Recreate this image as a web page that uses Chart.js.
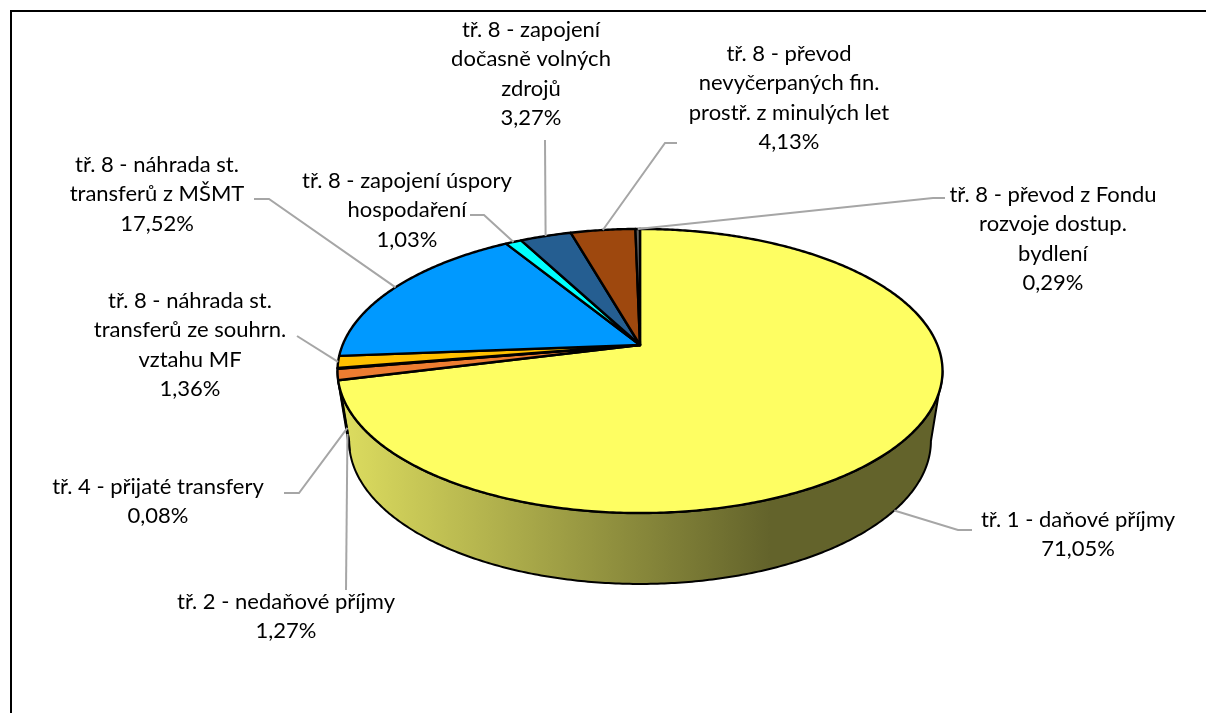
<!DOCTYPE html>
<html>
<head>
<meta charset="utf-8">
<title>Příjmy</title>
<script src="https://cdn.jsdelivr.net/npm/chart.js@4"></script>
<style>
  html, body { margin: 0; padding: 0; background: #fff; overflow: hidden; }
  canvas { display: block; }
</style>
</head>
<body>
<canvas id="pieChart" width="1206" height="713"></canvas>
<script>
// Data, clockwise from 12 o'clock
const categories = [
  'tř. 1 - daňové příjmy',
  'tř. 2 - nedaňové příjmy',
  'tř. 4 - přijaté transfery',
  'tř. 8 - náhrada st. transferů ze souhrn. vztahu MF',
  'tř. 8 - náhrada st. transferů z MŠMT',
  'tř. 8 - zapojení úspory hospodaření',
  'tř. 8 - zapojení dočasně volných zdrojů',
  'tř. 8 - převod nevyčerpaných fin. prostř. z minulých let',
  'tř. 8 - převod z Fondu rozvoje dostup. bydlení'
];
const values = [71.05, 1.27, 0.08, 1.36, 17.52, 1.03, 3.27, 4.13, 0.29];
const labelLines = [
  ['tř. 1 - daňové příjmy'],
  ['tř. 2 - nedaňové příjmy'],
  ['tř. 4 - přijaté transfery'],
  ['tř. 8 - náhrada st.', 'transferů ze souhrn.', 'vztahu MF'],
  ['tř. 8 - náhrada st.', 'transferů z MŠMT'],
  ['tř. 8 - zapojení úspory', 'hospodaření'],
  ['tř. 8 - zapojení', 'dočasně volných', 'zdrojů'],
  ['tř. 8 - převod', 'nevyčerpaných fin.', 'prostř. z minulých let'],
  ['tř. 8 - převod z Fondu', 'rozvoje dostup.', 'bydlení']
];
const colors = ['#FEFE62', '#ED7D31', '#A5A5A5', '#FFC000', '#0099FF', '#00FFFF', '#255E91', '#9E480E', '#636363'];

// Label layout: text centre x, first line y, leader elbow points, how far down the rim the leader ends
const labelLayout = [
  { x: 1078, y: 520, elbow: [[972, 530], [958, 530]], rim: 1 },
  { x: 286, y: 602, elbow: [[346, 590]], rim: 0.85 },
  { x: 158, y: 487, elbow: [[284, 493], [299, 493]], rim: 0.85 },
  { x: 190, y: 301, elbow: [[297, 336]], rim: 0 },
  { x: 157, y: 165, elbow: [[254, 199], [269, 199]], rim: 0 },
  { x: 407, y: 181, elbow: [[470, 215], [484, 215]], rim: 0 },
  { x: 531, y: 30, elbow: [[545, 140]], rim: 0 },
  { x: 789, y: 54, elbow: [[677, 143], [665, 143]], rim: 0 },
  { x: 1053, y: 195, elbow: [[945, 198], [933, 198]], rim: 0 }
];
const lineHeight = 29.4;

// Perspective of the disc: apex (640,345), the near edge is bigger than the far one
const persp = 0.183;
const topFace = { cx: 640, cy: 345, a: 297.4, b: 137.3 };
const bottomFace = { cx: 640, cy: 414.8, a: 286, b: 138.2 };

function project(face, angle) {
  const w = 1 - persp * Math.sin(angle);
  return [face.cx + face.a * Math.cos(angle) / w, face.cy + face.b * Math.sin(angle) / w];
}

function traceEdge(ctx, face, from, to) {
  const steps = Math.max(2, Math.ceil(Math.abs(to - from) / 0.01));
  for (let i = 0; i <= steps; i++) {
    const p = project(face, from + (to - from) * i / steps);
    ctx.lineTo(p[0], p[1]);
  }
}

// Pie slices get the perspective shape instead of a flat circle
Chart.ArcElement.prototype.draw = function(ctx) {
  ctx.save();
  ctx.beginPath();
  ctx.moveTo(topFace.cx, topFace.cy);
  traceEdge(ctx, topFace, this.startAngle, this.endAngle);
  ctx.closePath();
  ctx.fillStyle = this.options.backgroundColor;
  ctx.fill();
  ctx.lineWidth = 2.4;
  ctx.lineJoin = 'round';
  ctx.strokeStyle = '#000';
  ctx.stroke();
  ctx.restore();
};

const framePlugin = {
  id: 'frame',
  beforeDraw(chart) {
    const ctx = chart.ctx;
    ctx.save();
    ctx.strokeStyle = '#000';
    ctx.lineWidth = 2;
    ctx.beginPath();
    ctx.moveTo(11, 713);
    ctx.lineTo(11, 11);
    ctx.lineTo(1206, 11);
    ctx.stroke();
    ctx.restore();
  }
};

// Rim of the disc, only the part facing the viewer
const rimPlugin = {
  id: 'rim',
  beforeDatasetsDraw(chart) {
    const ctx = chart.ctx;
    const frontFrom = Math.asin(persp);
    const frontTo = Math.PI - frontFrom;
    const grad = ctx.createLinearGradient(337, 0, 770, 0);
    grad.addColorStop(0, '#DEDE60');
    grad.addColorStop(1, '#63632B');
    ctx.save();
    chart.getDatasetMeta(0).data.forEach(arc => {
      const from = Math.max(arc.startAngle, frontFrom);
      const to = Math.min(arc.endAngle, frontTo);
      if (to <= from) return;
      ctx.beginPath();
      const start = project(topFace, from);
      ctx.moveTo(start[0], start[1]);
      traceEdge(ctx, topFace, from, to);
      traceEdge(ctx, bottomFace, frontTo, from);
      ctx.closePath();
      ctx.fillStyle = grad;
      ctx.fill();
      ctx.lineWidth = 2;
      ctx.lineJoin = 'round';
      ctx.strokeStyle = '#000';
      ctx.stroke();
    });
    ctx.restore();
  }
};

const labelPlugin = {
  id: 'calloutLabels',
  afterDatasetsDraw(chart) {
    const ctx = chart.ctx;
    const arcs = chart.getDatasetMeta(0).data;
    ctx.save();
    labelLayout.forEach((pos, i) => {
      const mid = (arcs[i].startAngle + arcs[i].endAngle) / 2;
      const t = project(topFace, mid);
      const b = project(bottomFace, mid);
      ctx.beginPath();
      pos.elbow.forEach((p, j) => j ? ctx.lineTo(p[0], p[1]) : ctx.moveTo(p[0], p[1]));
      ctx.lineTo(t[0] + (b[0] - t[0]) * pos.rim, t[1] + (b[1] - t[1]) * pos.rim);
      ctx.strokeStyle = '#A6A6A6';
      ctx.lineWidth = 2;
      ctx.stroke();

      const lines = labelLines[i].concat(values[i].toFixed(2).replace('.', ',') + '%');
      ctx.fillStyle = '#000';
      ctx.font = '22px Lato';
      ctx.textAlign = 'center';
      ctx.textBaseline = 'middle';
      lines.forEach((line, j) => ctx.fillText(line, pos.x, pos.y + j * lineHeight));
    });
    ctx.restore();
  }
};

new Chart(document.getElementById('pieChart').getContext('2d'), {
  type: 'pie',
  data: {
    labels: categories,
    datasets: [{ data: values, backgroundColor: colors }]
  },
  options: {
    responsive: false,
    animation: false,
    events: [],
    plugins: {
      legend: { display: false },
      tooltip: { enabled: false }
    }
  },
  plugins: [framePlugin, rimPlugin, labelPlugin]
});
</script>
</body>
</html>
